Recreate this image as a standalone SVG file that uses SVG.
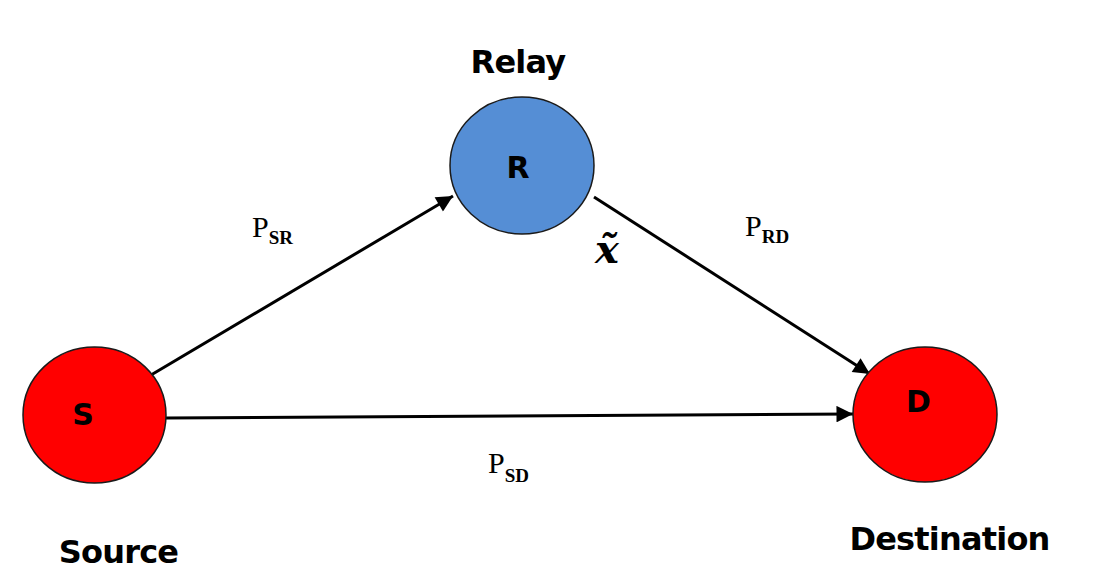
<svg xmlns="http://www.w3.org/2000/svg" width="1101" height="574" viewBox="0 0 1101 574">
<style>
.node{stroke:#1a1a1a;stroke-width:1.5}
.red{fill:#ff0000}
.blue{fill:#558ed5}
.title{font-family:"DejaVu Sans",sans-serif;font-weight:bold;font-size:32px;letter-spacing:-0.8px;fill:#000}
.letter{font-family:"DejaVu Sans",sans-serif;font-weight:bold;font-size:30px;fill:#000}
.p{font-family:"Liberation Serif",serif;font-size:30px;fill:#000}
.sub{font-family:"Liberation Serif",serif;font-weight:bold;font-size:19px;fill:#000}
.edge{stroke:#000;stroke-width:3;fill:none}
</style>
<defs>
<marker id="arr" viewBox="0 0 10 10" refX="10" refY="5" markerWidth="6.5" markerHeight="5.5" markerUnits="strokeWidth" orient="auto">
<path d="M0,0 L10,5 L0,10 z" fill="#000"/>
</marker>
</defs>
<rect width="1101" height="574" fill="#fff"/>
<g id="connectors">
<line class="edge" x1="151" y1="375" x2="453" y2="196" marker-end="url(#arr)"/>
<line class="edge" x1="594" y1="197" x2="870" y2="374" marker-end="url(#arr)"/>
<line class="edge" x1="166" y1="418" x2="853" y2="414" marker-end="url(#arr)"/>
</g>
<g id="node-R">
<ellipse class="node blue" cx="522" cy="165.5" rx="72" ry="68.5"/>
<text class="letter" x="518" y="178" text-anchor="middle">R</text>
<text class="title" x="518" y="73" text-anchor="middle">Relay</text>
</g>
<g id="node-S">
<ellipse class="node red" cx="94.5" cy="415" rx="71.5" ry="68"/>
<text class="letter" x="83" y="425" text-anchor="middle">S</text>
<text class="title" x="118.5" y="563" text-anchor="middle">Source</text>
</g>
<g id="node-D">
<ellipse class="node red" cx="925" cy="414.5" rx="72" ry="67.5"/>
<text class="letter" x="918.5" y="412" text-anchor="middle">D</text>
<text class="title" x="949.5" y="550" text-anchor="middle">Destination</text>
</g>
<g id="labels">
<text x="252" y="237"><tspan class="p">P</tspan><tspan class="sub" y="244">SR</tspan></text>
<text x="745" y="236"><tspan class="p">P</tspan><tspan class="sub" y="243">RD</tspan></text>
<text x="488" y="473"><tspan class="p">P</tspan><tspan class="sub" y="482">SD</tspan></text>
<text x="607" y="263" text-anchor="middle" font-family="DejaVu Serif,serif" font-style="italic" font-weight="bold" font-size="40">x̃</text>
</g>
</svg>
